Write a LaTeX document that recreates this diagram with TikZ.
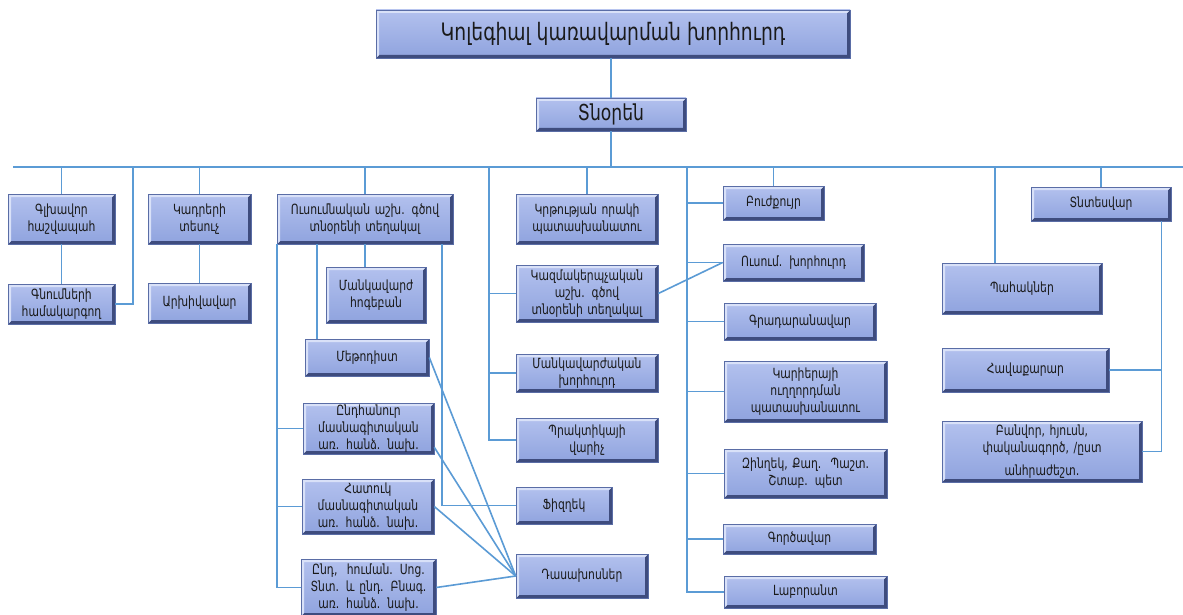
\documentclass[tikz,border=0pt]{standalone}
\usepackage{fontspec}
\setmainfont{DejaVu Sans}
\newfontfamily\boxfont{DejaVu Sans}[FakeStretch=0.77]
\newfontfamily\titlefont{DejaVu Sans}[FakeStretch=0.78]
\usetikzlibrary{calc}
\definecolor{boxT}{HTML}{B3C1EE}
\definecolor{boxB}{HTML}{8FA3DE}
\definecolor{boxD}{HTML}{3E4C7E}
\definecolor{boxL}{HTML}{D9E1F8}
\definecolor{boxE}{HTML}{5A6DA6}
\definecolor{wire}{HTML}{5B9BD5}
\definecolor{ink}{HTML}{1A1A1A}
\tikzset{
  bx/.style={rectangle, inner sep=1pt, align=center, top color=boxT, bottom color=boxB,
    draw=boxE, line width=0.6pt, text=ink, font={\boxfont\fontsize{14}{17}\selectfont},
    path picture={
      \fill[boxD] (path picture bounding box.south west) -- (path picture bounding box.south east)
        -- (path picture bounding box.north east) -- ([xshift=-3pt,yshift=-3pt]path picture bounding box.north east)
        -- ([xshift=-3pt,yshift=3pt]path picture bounding box.south east) -- ([xshift=3pt,yshift=3pt]path picture bounding box.south west) -- cycle;
      \fill[boxL] (path picture bounding box.south west) -- (path picture bounding box.north west)
        -- (path picture bounding box.north east) -- ([xshift=-3pt,yshift=-3pt]path picture bounding box.north east)
        -- ([xshift=3pt,yshift=-3pt]path picture bounding box.north west) -- ([xshift=3pt,yshift=3pt]path picture bounding box.south west) -- cycle;
    }},
  wr/.style={draw=wire, line width=1.6pt}
}
\newcommand{\obox}[6]{\node[bx, minimum width=#4pt, minimum height=#5pt, text width=#4pt-4pt] (#1) at (#2,#3) {#6};}
\begin{document}
\begin{tikzpicture}[x=1pt,y=-1pt]
\fill[white] (0,0) rectangle (1183,615);
\useasboundingbox (0,0) rectangle (1183,615);

% boxes
\node[bx, minimum width=474pt, minimum height=48pt, font={\titlefont\fontsize{24}{27}\selectfont}] (top) at (613,34) {Կոլեգիալ կառավարման խորհուրդ};
\node[bx, minimum width=150pt, minimum height=33pt, font={\titlefont\fontsize{22}{25}\selectfont}] (tnoren) at (611,114.5) {Տնօրեն};

\obox{glkh}{61.5}{219}{107}{50}{Գլխավոր\\հաշվապահ}
\obox{gnum}{61.5}{304}{107}{40}{Գնումների\\համակարգող}
\obox{kadr}{199.5}{219}{103}{50}{Կադրերի\\տեսուչ}
\obox{arkh}{199.5}{303}{103}{40}{Արխիվավար}
\obox{usum}{365}{219}{176}{50}{Ուսումնական աշխ. գծով\\տնօրենի տեղակալ}
\obox{mhog}{376}{295}{100}{56}{Մանկավարժ\\հոգեբան}
\obox{meth}{367}{357.5}{124}{37}{Մեթոդիստ}
\obox{endh}{368.5}{428.5}{131}{51}{Ընդհանուր\\մասնագիտական\\առ. հանձ. նախ.}
\obox{hatuk}{368}{506.5}{132}{55}{Հատուկ\\մասնագիտական\\առ. հանձ. նախ.}
\obox{endhum}{368.5}{587.5}{135}{57}{Ընդ,\ \ հուման. Սոց.\\Տնտ. և ընդ. Բնագ.\\առ. հանձ. նախ.}
\obox{fiz}{564}{505.5}{96}{37}{Ֆիզղեկ}
\obox{dasax}{582}{576}{132}{44}{Դասախոսներ}
\obox{krt}{587}{219}{142}{50}{Կրթության որակի\\պատասխանատու}
\obox{kazm}{587}{293.5}{142}{57}{Կազմակերպչական\\աշխ. գծով\\տնօրենի տեղակալ}
\obox{mankkh}{587}{373}{142}{38}{Մանկավարժական\\խորհուրդ}
\obox{prakt}{587}{440}{142}{44}{Պրակտիկայի\\վարիչ}
\obox{buzh}{773.5}{203}{101}{34}{Բուժքույր}
\obox{rusum}{793.5}{262.5}{141}{37}{Ուսում. խորհուրդ}
\obox{grad}{800}{321.5}{152}{37}{Գրադարանավար}
\obox{kar}{805.5}{391.5}{163}{61}{Կարիերայի\\ուղղորդման\\պատասխանատու}
\obox{zin}{805.5}{473.5}{163}{49}{Զինղեկ, Քաղ.\ \ Պաշտ.\\Շտաբ. պետ}
\obox{gorc}{799.5}{539}{153}{30}{Գործավար}
\obox{lab}{805.5}{592}{163}{32}{Լաբորանտ}
\obox{pah}{1022}{288.5}{160}{51}{Պահակներ}
\obox{tnt}{1101}{204}{140}{34}{Տնտեսվար}
\obox{hav}{1025.5}{370}{167}{44}{Հավաքարար}
\node[bx, minimum width=200pt, minimum height=61pt, text width=196pt] (banv) at (1042,451.5) {Բանվոր, հյուսն,\\փականագործ, /ըստ\\[6pt]անհրաժեշտ․};

% bus
\coordinate (busL) at (13,167);
\coordinate (busR) at (1183,167);
\draw[wr] (busL) -- (busR);

% top connectors
\draw[wr] (top.south -| tnoren.north) -- (tnoren.north);
\draw[wr] (tnoren.south) -- (tnoren.south |- busL);

% left
\draw[wr] (glkh.north) -- (glkh.north |- busL);
\draw[wr] (glkh.south) -- (gnum.north);
\coordinate (g1) at (133,167);
\draw[wr] (gnum.east) -| (g1);
\draw[wr] (kadr.north) -- (kadr.north |- busL);
\draw[wr] (kadr.south) -- (arkh.north);

% usumnakan branch
\draw[wr] (usum.north) -- (usum.north |- busL);
\draw[wr] (usum.south west) |- (endhum.west);
\draw[wr] (endh.west) -- (endh.west -| usum.south west);
\draw[wr] (hatuk.west) -- (hatuk.west -| usum.south west);
\path (usum.south) ++(-48,0) coordinate (u1);
\draw[wr] (u1) -- (u1 |- meth.north);
\draw[wr] (usum.south) -- (usum.south |- mhog.north);
\path (usum.south) ++(77,0) coordinate (u2);
\draw[wr] (u2) |- (fiz.west);
\draw[wr] (meth.east) -- (dasax.west);
\draw[wr] ([yshift=7pt]endh.south east) -- (dasax.west);
\draw[wr] (hatuk.east) -- (dasax.west);
\draw[wr] (endhum.east) -- (dasax.west);

% middle
\coordinate (m0) at (489,167);
\draw[wr] (m0) |- (prakt.west);
\draw[wr] (kazm.west) -- (kazm.west -| m0);
\draw[wr] (mankkh.west) -- (mankkh.west -| m0);
\draw[wr] (krt.north) -- (krt.north |- busL);
\draw[wr] (kazm.east) -- (rusum.west);

% right-middle
\coordinate (r0) at (687,167);
\draw[wr] (r0) |- (lab.west);
\foreach \n in {buzh,rusum,grad,kar,zin,gorc} {\draw[wr] (\n.west) -- (\n.west -| r0);}
\draw[wr] (buzh.north) -- (buzh.north |- busL);

% right
\path (pah.north) ++(-27,0) coordinate (p1);
\draw[wr] (p1) -- (p1 |- busL);
\draw[wr] (tnt.north) -- (tnt.north |- busL);
\path (tnt.south east) ++(-10,0) coordinate (t1);
\draw[wr] (t1) |- (banv.east);
\draw[wr] (hav.east) -- (hav.east -| t1);
\end{tikzpicture}
\end{document}
